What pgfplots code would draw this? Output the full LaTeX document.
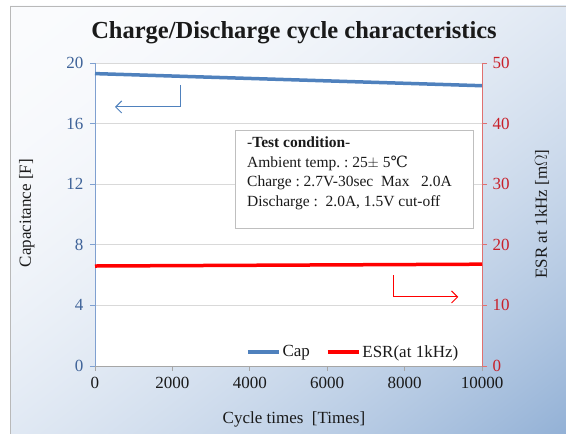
\documentclass[border=0pt]{standalone}
\usepackage{fontspec}
\setmainfont{Liberation Serif}
\newfontfamily\dejavu{DejaVu Serif}
\usepackage{pgfplots}
\pgfplotsset{compat=1.18}
\usetikzlibrary{arrows.meta}
\definecolor{capblue}{HTML}{4F81BD}
\definecolor{esrred}{HTML}{FF0000}
\definecolor{lblue}{HTML}{3F6399}
\definecolor{lred}{HTML}{C8202A}
\definecolor{axblue}{HTML}{7FA0D0}
\definecolor{axred}{HTML}{E07070}
\definecolor{txt}{HTML}{1A1A1A}
\pgfdeclarefunctionalshading{bgshade}{\pgfpoint{0bp}{0bp}}{\pgfpoint{100bp}{100bp}}{}{
  75 exch sub 50 div exch 25 sub 50 div add 2 div
  dup 0 lt {pop 0} if dup 1 gt {pop 1} if
  dup mul
  dup 0.404 mul 0.980 exch sub
  exch dup 0.290 mul 0.984 exch sub
  exch 0.153 mul 0.992 exch sub
}
\begin{document}
\begin{tikzpicture}
\useasboundingbox (0pt,0pt) rectangle (566pt,434pt);
\shade[shading=bgshade] (10pt,0pt) rectangle (566pt,428pt);
\draw[gray!55, line width=0.8pt] (10pt,0pt) -- (10pt,428pt) -- (566pt,428pt);
\node[font=\bfseries\fontsize{24.5}{28}\selectfont, text=txt] at (294pt,401pt) {Charge/Discharge cycle characteristics};

\begin{axis}[
  at={(95pt,68pt)}, anchor=south west,
  scale only axis, width=387pt, height=303pt,
  xmin=0, xmax=10000, ymin=0, ymax=20,
  xtick={0,2000,4000,6000,8000,10000},
  ytick={0,4,8,12,16,20},
  scaled x ticks=false,
  /pgf/number format/1000 sep={},
  /pgf/number format/assume math mode=true,
  axis x line*=bottom, axis y line*=left,
  x axis line style={draw=gray!70, line width=0.8pt, -},
  y axis line style={draw=axblue, line width=0.8pt, -},
  tick align=outside, major tick length=5pt,
  xtick style={draw=gray!70, line width=0.8pt},
  ytick style={draw=axblue, line width=0.8pt},
  ymajorgrids, grid style={draw=gray!30, line width=0.6pt},
  axis background/.style={fill=white},
  tick label style={font=\fontsize{17}{20}\selectfont},
  xticklabel style={text=txt, yshift=-3pt},
  yticklabel style={text=lblue, xshift=-3pt},
  xlabel={Cycle times\ \ [Times]},
  xlabel style={at={(axis description cs:0.514,-0.178)}, anchor=center, font=\fontsize{17}{20}\selectfont, text=txt},
  ylabel={Capacitance [F]},
  ylabel style={at={(axis description cs:-0.176,0.505)}, anchor=center, rotate=0, font=\fontsize{17}{20}\selectfont, text=txt},
  clip=false,
]
\addplot[capblue, line width=3.5pt] coordinates {(0,19.3) (10000,18.5)};
\draw[capblue, line width=1pt, -{Straight Barb[length=6pt,width=12pt]}] (axis cs:2198,18.55) -- (axis cs:2198,17.1) -- (axis cs:517,17.1);
\end{axis}

\begin{axis}[
  at={(95pt,68pt)}, anchor=south west,
  scale only axis, width=387pt, height=303pt,
  xmin=0, xmax=10000, ymin=0, ymax=50,
  ytick={0,10,20,30,40,50},
  /pgf/number format/assume math mode=true,
  axis x line=none, axis y line*=right,
  y axis line style={draw=axred, line width=0.8pt, -},
  tick align=outside, major tick length=5pt,
  ytick style={draw=axred, line width=0.8pt},
  tick label style={font=\fontsize{17}{20}\selectfont},
  yticklabel style={text=lred, xshift=2pt},
  ylabel={ESR at 1kHz [m\(\Omega\)]},
  ylabel style={at={(axis description cs:1.155,0.502)}, anchor=center, rotate=0, font=\fontsize{17}{20}\selectfont, text=txt},
  legend style={at={(axis description cs:0.667,0.046)}, anchor=center, draw=none, fill=none,
    legend columns=2, font=\fontsize{17}{20}\selectfont, text=txt,
    /tikz/every even column/.append style={column sep=14pt},
    inner sep=0pt},
  legend image code/.code={\draw[#1] (0pt,0pt) -- (31pt,0pt);},
  clip=false,
]
\addlegendimage{capblue, line width=3.5pt}
\addlegendentry{Cap}
\addplot[esrred, line width=3.5pt] coordinates {(0,16.5) (10000,16.8)};
\addlegendentry{ESR(at 1kHz)}
\draw[esrred, line width=1pt, -{Straight Barb[length=6pt,width=12pt]}] (axis cs:7706,15.0) -- (axis cs:7706,11.4) -- (axis cs:9387,11.4);
\end{axis}

\draw[gray!50, fill=white, line width=0.8pt] (235pt,206pt) rectangle (473pt,304pt);
\node[anchor=north west, align=left, inner sep=0pt, text=txt,
      font=\fontsize{15.5}{19.5}\selectfont] at (247pt,297pt)
  {-\textbf{Test condition}-\\
   Ambient temp.\ :\ 25\(\pm\) 5{\dejavu ℃}\\
   Charge :\ 2.7V-30sec\ \ Max\ \ \ 2.0A\\
   Discharge :\ \ 2.0A, 1.5V cut-off};
\end{tikzpicture}
\end{document}
